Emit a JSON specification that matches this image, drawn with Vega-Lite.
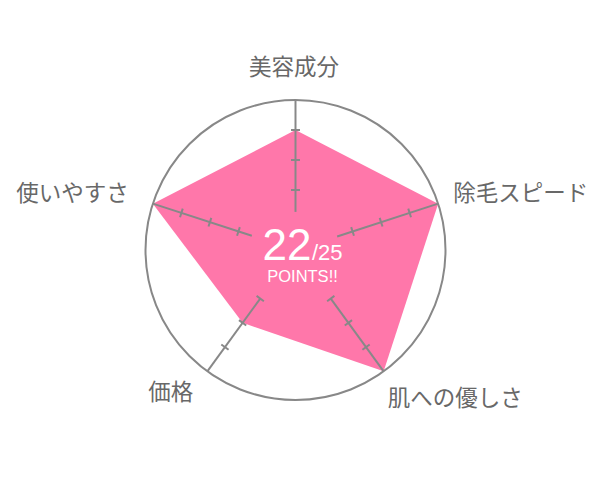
{
  "$schema": "https://vega.github.io/schema/vega-lite/v6.json",
  "description": "Radar chart: 22/25 points",
  "width": 300,
  "height": 300,
  "autosize": {"type": "none"},
  "padding": {"left": 145.5, "top": 100, "right": 162.5, "bottom": 85},
  "data": {
    "values": [
      {"item": "美容成分", "idx": 0, "score": 4, "from": 1.27, "ticks": [2, 3, 4]},
      {"item": "除毛スピード", "idx": 1, "score": 5, "from": 1.46, "ticks": [2, 3, 4]},
      {"item": "肌への優しさ", "idx": 2, "score": 5, "from": 2, "ticks": [2, 3, 4]},
      {"item": "価格", "idx": 3, "score": 3, "from": 2, "ticks": [2, 3, 4]},
      {"item": "使いやすさ", "idx": 4, "score": 5, "from": 1.53, "ticks": [2, 3, 4]}
    ]
  },
  "transform": [
    {"calculate": "datum.idx * 2 * PI / 5", "as": "theta"},
    {"calculate": "datum.idx * 72", "as": "deg"},
    {"calculate": "datum.score * sin(datum.theta)", "as": "px"},
    {"calculate": "datum.score * cos(datum.theta)", "as": "py"},
    {"calculate": "5 * sin(datum.theta)", "as": "ox"},
    {"calculate": "5 * cos(datum.theta)", "as": "oy"},
    {"calculate": "datum.from * sin(datum.theta)", "as": "ix"},
    {"calculate": "datum.from * cos(datum.theta)", "as": "iy"}
  ],
  "layer": [
    {
      "mark": {"type": "line", "filled": true, "interpolate": "linear-closed", "color": "#ff77aa", "strokeWidth": 0},
      "encoding": {
        "x": {"field": "px", "type": "quantitative", "scale": {"domain": [-5, 5], "nice": false, "zero": false}, "axis": null},
        "y": {"field": "py", "type": "quantitative", "scale": {"domain": [-5, 5], "nice": false, "zero": false}, "axis": null},
        "order": {"field": "idx"}
      }
    },
    {
      "transform": [{"aggregate": [{"op": "count", "as": "n"}]}],
      "mark": {"type": "point", "shape": "circle", "size": 90000, "filled": false, "color": "#888888", "strokeWidth": 2, "opacity": 1},
      "encoding": {
        "x": {"datum": 0, "type": "quantitative"},
        "y": {"datum": 0, "type": "quantitative"}
      }
    },
    {
      "mark": {"type": "rule", "color": "#888888", "strokeWidth": 2},
      "encoding": {
        "x": {"field": "ix", "type": "quantitative"},
        "y": {"field": "iy", "type": "quantitative"},
        "x2": {"field": "ox"},
        "y2": {"field": "oy"}
      }
    },
    {
      "transform": [
        {"flatten": ["ticks"], "as": ["tick"]},
        {"calculate": "datum.tick * sin(datum.theta)", "as": "tx"},
        {"calculate": "datum.tick * cos(datum.theta)", "as": "ty"}
      ],
      "mark": {"type": "point", "shape": "stroke", "size": 81, "filled": false, "color": "#888888", "strokeWidth": 2, "opacity": 1},
      "encoding": {
        "x": {"field": "tx", "type": "quantitative"},
        "y": {"field": "ty", "type": "quantitative"},
        "angle": {"field": "deg", "type": "quantitative", "scale": null}
      }
    },
    {
      "transform": [{"filter": "datum.idx == 0"}],
      "mark": {"type": "text", "align": "center", "baseline": "middle", "dx": -1.5, "dy": -32, "font": "Noto Sans CJK JP", "fontSize": 22.5, "color": "#686868"},
      "encoding": {
        "x": {"field": "ox", "type": "quantitative"},
        "y": {"field": "oy", "type": "quantitative"},
        "text": {"field": "item"}
      }
    },
    {
      "transform": [{"filter": "datum.idx == 1"}],
      "mark": {"type": "text", "align": "left", "baseline": "middle", "dx": 15, "dy": -10, "font": "Noto Sans CJK JP", "fontSize": 22.5, "color": "#686868"},
      "encoding": {
        "x": {"field": "ox", "type": "quantitative"},
        "y": {"field": "oy", "type": "quantitative"},
        "text": {"field": "item"}
      }
    },
    {
      "transform": [{"filter": "datum.idx == 2"}],
      "mark": {"type": "text", "align": "left", "baseline": "middle", "dx": 4, "dy": 28, "font": "Noto Sans CJK JP", "fontSize": 22.5, "color": "#686868"},
      "encoding": {
        "x": {"field": "ox", "type": "quantitative"},
        "y": {"field": "oy", "type": "quantitative"},
        "text": {"field": "item"}
      }
    },
    {
      "transform": [{"filter": "datum.idx == 3"}],
      "mark": {"type": "text", "align": "right", "baseline": "middle", "dx": -14, "dy": 22, "font": "Noto Sans CJK JP", "fontSize": 22.5, "color": "#686868"},
      "encoding": {
        "x": {"field": "ox", "type": "quantitative"},
        "y": {"field": "oy", "type": "quantitative"},
        "text": {"field": "item"}
      }
    },
    {
      "transform": [{"filter": "datum.idx == 4"}],
      "mark": {"type": "text", "align": "right", "baseline": "middle", "dx": -24, "dy": -10, "font": "Noto Sans CJK JP", "fontSize": 22.5, "color": "#686868"},
      "encoding": {
        "x": {"field": "ox", "type": "quantitative"},
        "y": {"field": "oy", "type": "quantitative"},
        "text": {"field": "item"}
      }
    },
    {
      "transform": [{"aggregate": [{"op": "sum", "field": "score", "as": "total"}]}],
      "mark": {"type": "text", "align": "right", "baseline": "alphabetic", "dx": 16, "dy": 10, "font": "Liberation Sans", "fontSize": 44, "color": "white"},
      "encoding": {
        "x": {"datum": 0, "type": "quantitative"},
        "y": {"datum": 0, "type": "quantitative"},
        "text": {"field": "total", "type": "quantitative"}
      }
    },
    {
      "transform": [
        {"aggregate": [{"op": "count", "as": "n"}]},
        {"calculate": "'/' + (5 * datum.n)", "as": "outOf"}
      ],
      "mark": {"type": "text", "align": "left", "baseline": "alphabetic", "dx": 16.5, "dy": 10, "font": "Liberation Sans", "fontSize": 22, "color": "white"},
      "encoding": {
        "x": {"datum": 0, "type": "quantitative"},
        "y": {"datum": 0, "type": "quantitative"},
        "text": {"field": "outOf"}
      }
    },
    {
      "transform": [{"aggregate": [{"op": "count", "as": "n"}]}],
      "mark": {"type": "text", "align": "center", "baseline": "alphabetic", "dx": 7, "dy": 32, "font": "Liberation Sans", "fontSize": 16.5, "color": "white", "text": "POINTS!!"},
      "encoding": {
        "x": {"datum": 0, "type": "quantitative"},
        "y": {"datum": 0, "type": "quantitative"}
      }
    }
  ],
  "config": {"view": {"stroke": null}}
}
